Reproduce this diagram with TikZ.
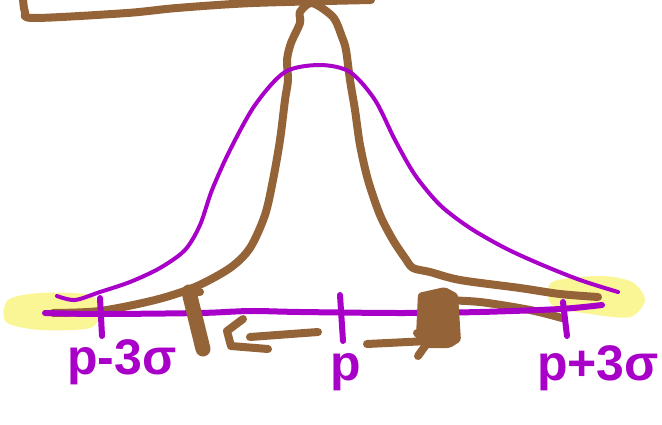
\documentclass[tikz,border=0pt]{standalone}
\usepackage{fontspec}
\setmainfont{Liberation Sans}
\definecolor{brownc}{RGB}{148,100,56}
\definecolor{purp}{RGB}{168,0,200}
\definecolor{hl}{RGB}{250,246,150}
\begin{document}
\begin{tikzpicture}[x=1pt,y=-1pt,
  br/.style={draw=brownc,line width=8pt,line cap=round,line join=round},
  pu/.style={draw=purp,line width=4pt,line cap=round,line join=round},
  lbl/.style={text=purp,font=\fontsize{50}{50}\selectfont\bfseries,inner sep=0pt,anchor=base}]
\useasboundingbox (0,0) rectangle (662,424);
% yellow highlights
\fill[hl] plot[smooth cycle] coordinates {(8,300) (40,293) (90,295) (100,312) (90,328) (40,330) (6,322)};
\fill[hl] plot[smooth cycle] coordinates {(552,282) (600,276) (632,282) (645,300) (630,317) (590,314) (552,305)};
% top brown bar
\draw[br] plot[smooth] coordinates {(23,-2) (25,12) (34,18) (127,13) (177,8) (253,3) (371,0)};
% brown narrow curve
\draw[br] plot[smooth] coordinates {(53,313) (100,311) (155,300) (195,287) (230,268) (250,248) (265,215) (273,180) (280,140) (285,100) (288,80) (287,60) (291,43) (300,23) (300,12) (312,3) (333,17) (342,37) (346,50) (350,80) (355,110) (360,145) (368,180) (380,215) (393,240) (405,258) (413,268) (430,272) (460,280) (520,288) (560,294) (598,297)};
\draw[br] plot[smooth] coordinates {(440,300) (480,302) (530,310) (562,318)};
% purple bell curve
\draw[pu] plot[smooth] coordinates {(57,296) (75,300) (100,292) (130,282) (160,268) (185,250) (200,225) (212,190) (230,150) (255,105) (285,72) (320,65) (350,72) (375,100) (395,140) (415,175) (440,205) (470,228) (505,248) (540,264) (580,280) (618,292)};
% purple axis
\draw[pu,line width=6pt] plot[smooth] coordinates {(45,313) (100,314) (200,313) (250,311) (300,312) (400,313) (480,312) (560,309) (602,305)};
% ticks
\draw[pu,line width=6pt] (100,298) -- (102,336);
\draw[pu,line width=6pt] (340,295) -- (343,341);
\draw[pu,line width=6pt] (563,302) -- (567,336);
% brown thick marks
\draw[br,line width=15pt] (189,292) -- (203,349);
\draw[br] (192,292) -- (200,292);
\fill[brownc,rounded corners=3pt] (418,293) -- (445,287) -- (458,294) -- (461,341) -- (450,348) -- (422,348) -- (416,336) -- cycle;
% arrows
\draw[br] (318,332) -- (250,337);
\draw[br] (243,319) -- (227,331) -- (231,346) -- (268,349);
\draw[br] (367,344) -- (428,341);
\draw[br] (417,333) -- (428,342) -- (418,356);
% labels
\node[lbl] (l1) at (122,374) {p-3σ};
\node[lbl] (l2) at (346,380) {p};
\node[lbl] (l3) at (598,380) {p+3σ};
\end{tikzpicture}
\end{document}
